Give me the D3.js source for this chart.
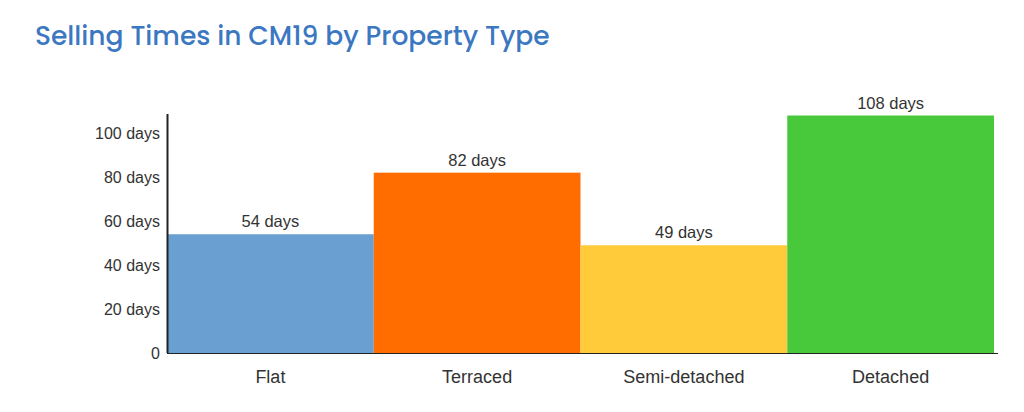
<!DOCTYPE html>
<html>
<head>
<meta charset="utf-8">
<script src="https://cdn.jsdelivr.net/npm/d3@7"></script>
<style>
  body { margin: 0; background: #fff; }
</style>
</head>
<body>
<div id="chart"></div>
<script>
var categories = ["Flat", "Terraced", "Semi-detached", "Detached"];
var values = [54, 82, 49, 108];
var colors = ["#6a9fd1", "#ff6d00", "#ffcb3b", "#48c93b"];
var yTicks = [0, 20, 40, 60, 80, 100];

var width = 1024, height = 412;
var margin = {left: 167, right: 30, top: 115.5, bottom: 59};

var svg = d3.select("#chart")
    .append("svg")
    .attr("width", width)
    .attr("height", height);

svg.append("text")
    .attr("x", 35)
    .attr("y", 45)
    .attr("fill", "#3b78c1")
    .attr("font-family", "Poppins, 'Open Sans', sans-serif")
    .attr("font-weight", 500)
    .attr("font-size", "26.5px")
    .text("Selling Times in CM19 by Property Type");

var x = d3.scaleBand()
    .domain(categories)
    .range([margin.left, 994])
    .padding(0);

var y = d3.scaleLinear()
    .domain([0, 108])
    .range([353, margin.top]);

// bars
svg.selectAll(".bar")
    .data(values)
    .join("rect")
    .attr("class", "bar")
    .attr("x", function(d, i) { return x(categories[i]); })
    .attr("width", x.bandwidth())
    .attr("y", function(d) { return y(d); })
    .attr("height", function(d) { return y(0) - y(d); })
    .attr("fill", function(d, i) { return colors[i]; });

// value labels
svg.selectAll(".val")
    .data(values)
    .join("text")
    .attr("class", "val")
    .attr("x", function(d, i) { return x(categories[i]) + x.bandwidth() / 2; })
    .attr("y", function(d) { return y(d) - 7; })
    .attr("text-anchor", "middle")
    .attr("font-family", "'Liberation Sans', Arial, sans-serif")
    .attr("font-size", "16.5px")
    .attr("fill", "#333")
    .text(function(d) { return d + " days"; });

// y axis
var yAxis = d3.axisLeft(y)
    .tickValues(yTicks)
    .tickSize(0)
    .tickPadding(7)
    .tickFormat(function(d) { return d === 0 ? "0" : d + " days"; });

var gy = svg.append("g")
    .attr("transform", "translate(" + margin.left + ",0)")
    .call(yAxis);
gy.select(".domain").attr("d", "M0.5,114V" + y(0)).attr("stroke", "#222").attr("stroke-width", 2);
gy.selectAll("text")
    .attr("font-family", "'Liberation Sans', Arial, sans-serif")
    .attr("font-size", "16px")
    .attr("fill", "#333");

// x axis
var xAxis = d3.axisBottom(x).tickSize(0).tickPadding(17);
var gx = svg.append("g")
    .attr("transform", "translate(0," + y(0) + ")")
    .call(xAxis);
gx.select(".domain").remove();
gx.append("line")
    .attr("x1", margin.left)
    .attr("x2", 998)
    .attr("y1", 0.5)
    .attr("y2", 0.5)
    .attr("stroke", "#222")
    .attr("stroke-width", 1);
gx.selectAll("text")
    .attr("font-family", "'Liberation Sans', Arial, sans-serif")
    .attr("font-size", "18px")
    .attr("fill", "#333");
</script>
</body>
</html>
